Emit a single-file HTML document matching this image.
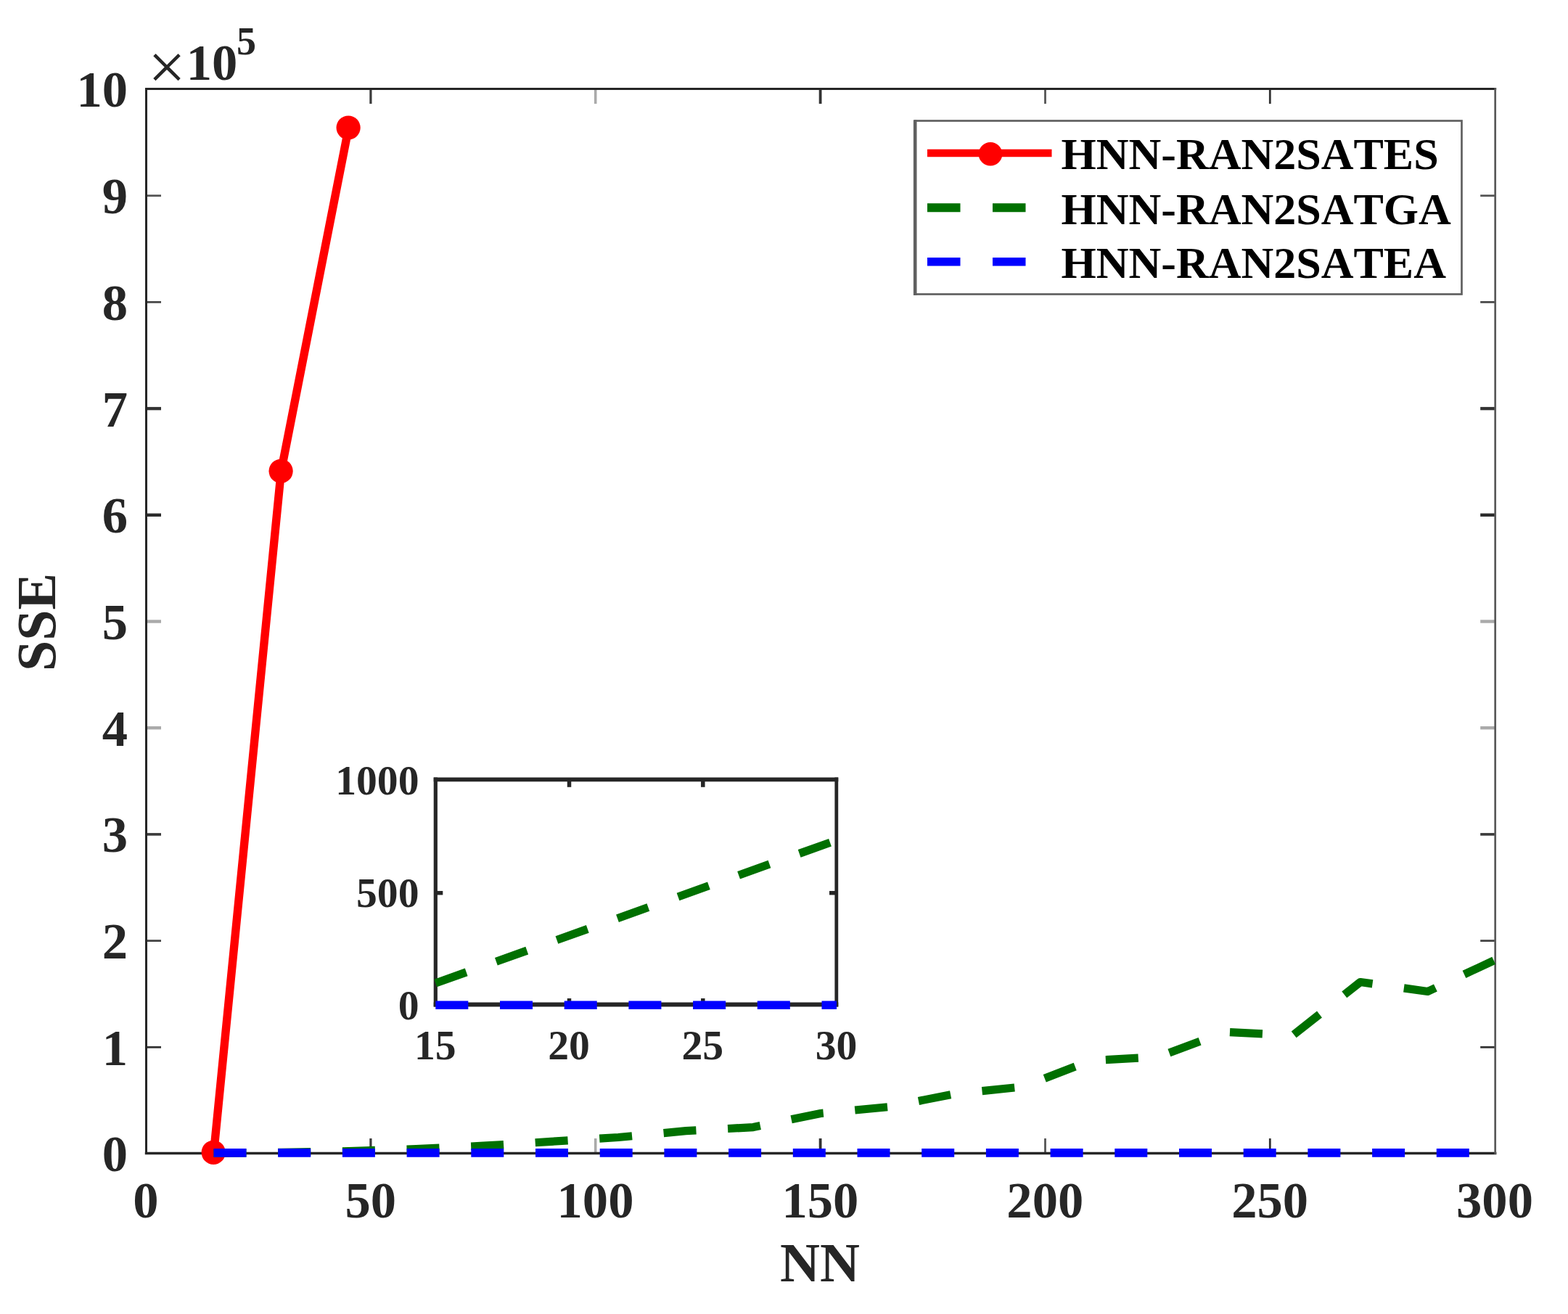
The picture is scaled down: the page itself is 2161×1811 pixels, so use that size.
<!DOCTYPE html>
<html lang="en"><head><meta charset="utf-8"><title>SSE vs NN</title>
<style>
html,body{margin:0;padding:0;background:#fff;}
body{width:2161px;height:1811px;overflow:hidden;}
svg{display:block;}
text{font-family:"Liberation Serif",serif;font-kerning:none;}
.t{font-weight:bold;font-size:70.6px;fill:#262626;}
.ti{font-weight:bold;font-size:57.7px;fill:#262626;}
.l{font-weight:bold;font-size:76px;fill:#262626;}
.g{font-weight:bold;font-size:62px;fill:#000;}
</style></head><body>
<svg width="2161" height="1811" viewBox="0 0 2161 1811">
<rect x="0" y="0" width="2161" height="1811" fill="#fff"/>
<g>
<g fill="none">
<line x1="510.9" y1="1589.5" x2="510.9" y2="1569.0" stroke="#3a3a3a" stroke-width="3.2"/>
<line x1="510.9" y1="122.5" x2="510.9" y2="143.0" stroke="#3a3a3a" stroke-width="3.2"/>
<line x1="820.7" y1="1589.5" x2="820.7" y2="1569.0" stroke="#aaa" stroke-width="3.6"/>
<line x1="820.7" y1="122.5" x2="820.7" y2="143.0" stroke="#aaa" stroke-width="3.6"/>
<line x1="1130.6" y1="1589.5" x2="1130.6" y2="1569.0" stroke="#333" stroke-width="3.8"/>
<line x1="1130.6" y1="122.5" x2="1130.6" y2="143.0" stroke="#333" stroke-width="3.8"/>
<line x1="1440.5" y1="1589.5" x2="1440.5" y2="1569.0" stroke="#555" stroke-width="2.8"/>
<line x1="1440.5" y1="122.5" x2="1440.5" y2="143.0" stroke="#555" stroke-width="2.8"/>
<line x1="1750.3" y1="1589.5" x2="1750.3" y2="1569.0" stroke="#333" stroke-width="2.8"/>
<line x1="1750.3" y1="122.5" x2="1750.3" y2="143.0" stroke="#333" stroke-width="2.8"/>
<line x1="201.5" y1="1443.3" x2="222.0" y2="1443.3" stroke="#333" stroke-width="2.8"/>
<line x1="2060.7" y1="1443.3" x2="2040.2" y2="1443.3" stroke="#333" stroke-width="2.8"/>
<line x1="201.5" y1="1296.6" x2="222.0" y2="1296.6" stroke="#444" stroke-width="2.8"/>
<line x1="2060.7" y1="1296.6" x2="2040.2" y2="1296.6" stroke="#444" stroke-width="2.8"/>
<line x1="201.5" y1="1149.9" x2="222.0" y2="1149.9" stroke="#3a3a3a" stroke-width="3.6"/>
<line x1="2060.7" y1="1149.9" x2="2040.2" y2="1149.9" stroke="#3a3a3a" stroke-width="3.6"/>
<line x1="201.5" y1="1003.2" x2="222.0" y2="1003.2" stroke="#aaa" stroke-width="4.4"/>
<line x1="2060.7" y1="1003.2" x2="2040.2" y2="1003.2" stroke="#aaa" stroke-width="4.4"/>
<line x1="201.5" y1="856.5" x2="222.0" y2="856.5" stroke="#aaa" stroke-width="4.4"/>
<line x1="2060.7" y1="856.5" x2="2040.2" y2="856.5" stroke="#aaa" stroke-width="4.4"/>
<line x1="201.5" y1="709.8" x2="222.0" y2="709.8" stroke="#2c2c2c" stroke-width="4.4"/>
<line x1="2060.7" y1="709.8" x2="2040.2" y2="709.8" stroke="#2c2c2c" stroke-width="4.4"/>
<line x1="201.5" y1="563.1" x2="222.0" y2="563.1" stroke="#333" stroke-width="4.4"/>
<line x1="2060.7" y1="563.1" x2="2040.2" y2="563.1" stroke="#333" stroke-width="4.4"/>
<line x1="201.5" y1="416.4" x2="222.0" y2="416.4" stroke="#4a4a4a" stroke-width="2.8"/>
<line x1="2060.7" y1="416.4" x2="2040.2" y2="416.4" stroke="#4a4a4a" stroke-width="2.8"/>
<line x1="201.5" y1="269.7" x2="222.0" y2="269.7" stroke="#555" stroke-width="2.8"/>
<line x1="2060.7" y1="269.7" x2="2040.2" y2="269.7" stroke="#555" stroke-width="2.8"/>
</g>
<g stroke="#262626" fill="none" stroke-linecap="square">
<line x1="201.5" y1="122.5" x2="2060.7" y2="122.5" stroke-width="3"/>
<line x1="201.5" y1="122.5" x2="201.5" y2="1589.5" stroke-width="3"/>
<line x1="201.5" y1="1589.5" x2="2060.7" y2="1589.5" stroke-width="3.4"/>
<line x1="2060.7" y1="122.5" x2="2060.7" y2="1589.5" stroke-width="2.7" stroke="#585858"/>
</g>
<text class="t" x="200.8" y="1678" text-anchor="middle">0</text>
<text class="t" x="510.7" y="1678" text-anchor="middle">50</text>
<text class="t" x="820.5" y="1678" text-anchor="middle">100</text>
<text class="t" x="1130.4" y="1678" text-anchor="middle">150</text>
<text class="t" x="1440.3" y="1678" text-anchor="middle">200</text>
<text class="t" x="1750.1" y="1678" text-anchor="middle">250</text>
<text class="t" x="2060.0" y="1678" text-anchor="middle">300</text>
<text class="t" x="176" y="1614.4" text-anchor="end">0</text>
<text class="t" x="176" y="1467.7" text-anchor="end">1</text>
<text class="t" x="176" y="1321.0" text-anchor="end">2</text>
<text class="t" x="176" y="1174.3" text-anchor="end">3</text>
<text class="t" x="176" y="1027.6" text-anchor="end">4</text>
<text class="t" x="176" y="880.9" text-anchor="end">5</text>
<text class="t" x="176" y="734.2" text-anchor="end">6</text>
<text class="t" x="176" y="587.5" text-anchor="end">7</text>
<text class="t" x="176" y="440.8" text-anchor="end">8</text>
<text class="t" x="176" y="294.1" text-anchor="end">9</text>
<text class="t" x="176" y="147.4" text-anchor="end">10</text>
<text x="230.0" y="122.8" text-anchor="middle" font-size="92" fill="#262626">×</text>
<text class="t" x="256.7" y="109.5">10</text>
<text class="t" x="326.0" y="74.7" style="font-size:54px">5</text>
<text class="l" x="1129.9" y="1765.7" text-anchor="middle">NN</text>
<text class="l" transform="translate(75.5 857.5) rotate(-90)" text-anchor="middle">SSE</text>
<polyline fill="none" stroke="#ff0000" stroke-width="11.4" stroke-linejoin="round" points="294.5,1589.5 387.4,649.6 480.4,176.3"/>
<circle cx="294.2" cy="1588.3" r="16.6" fill="#ff0000"/>
<circle cx="387.1" cy="649.3" r="16.6" fill="#ff0000"/>
<circle cx="480.1" cy="176.0" r="16.6" fill="#ff0000"/>
<polyline fill="none" stroke="#007000" stroke-width="11.2" stroke-dasharray="45 43.7" stroke-linejoin="round" points="294.5,1589.4 387.4,1588.4 480.4,1586.6 573.3,1583.6 666.3,1579.2 759.3,1573.4 852.2,1567.5 945.2,1558.7 1038.1,1553.6 1131.1,1534.5 1224.1,1525.6 1317.0,1507.5 1410.0,1497.8 1502.9,1461.9 1595.9,1456.7 1688.9,1422.3 1781.8,1427.0 1874.8,1353.5 1967.7,1366.5 2060.7,1322.9"/>
<line x1="294.5" y1="1588.9" x2="2060.7" y2="1588.9" stroke="#0000ff" stroke-width="11.6" stroke-dasharray="45 43.7"/>
<rect x="600.3" y="1074.3" width="552.7" height="310.2" fill="#fff" stroke="none"/>
<g stroke="#262626" stroke-width="5.5" fill="none">
<line x1="784.5" y1="1384.5" x2="784.5" y2="1376.0"/>
<line x1="784.5" y1="1074.3" x2="784.5" y2="1084.8"/>
<line x1="968.8" y1="1384.5" x2="968.8" y2="1376.0"/>
<line x1="968.8" y1="1074.3" x2="968.8" y2="1084.8"/>
<line x1="600.3" y1="1230.7" x2="610.3" y2="1230.7"/>
<line x1="1153.0" y1="1230.7" x2="1143.0" y2="1230.7"/>
</g>
<g stroke="#262626" fill="none" stroke-linecap="butt">
<line x1="597.7" y1="1074.3" x2="1155.3" y2="1074.3" stroke-width="5.7"/>
<line x1="597.7" y1="1384.5" x2="1155.3" y2="1384.5" stroke-width="6"/>
<line x1="600.3" y1="1071.5" x2="600.3" y2="1387.5" stroke-width="5.2"/>
<line x1="1152.8" y1="1071.5" x2="1152.8" y2="1387.5" stroke-width="4.8"/>
</g>
<text class="ti" x="599.8" y="1459.7" text-anchor="middle">15</text>
<text class="ti" x="784.0" y="1459.7" text-anchor="middle">20</text>
<text class="ti" x="968.3" y="1459.7" text-anchor="middle">25</text>
<text class="ti" x="1152.5" y="1459.7" text-anchor="middle">30</text>
<text class="ti" x="577.5" y="1404.8" text-anchor="end">0</text>
<text class="ti" x="577.5" y="1249.7" text-anchor="end">500</text>
<text class="ti" x="577.5" y="1094.6" text-anchor="end">1000</text>
<line x1="600.3" y1="1355.0" x2="1153.0" y2="1158.1" stroke="#007000" stroke-width="11.2" stroke-dasharray="45 43.7"/>
<line x1="600.3" y1="1385.3" x2="1153.0" y2="1385.3" stroke="#0000ff" stroke-width="11.6" stroke-dasharray="45 43.7"/>
<rect x="1261.5" y="166.5" width="753.0" height="239.0" fill="#fff" stroke="#606060" stroke-width="2.7"/>
<line x1="1278" y1="211" x2="1449.5" y2="211" stroke="#ff0000" stroke-width="10.6"/>
<circle cx="1365" cy="212.2" r="16.3" fill="#ff0000"/>
<line x1="1261.2" y1="165.2" x2="1261.2" y2="406.9" stroke="#606060" stroke-width="4.6"/>
<line x1="1278" y1="286.2" x2="1449.5" y2="286.2" stroke="#007000" stroke-width="12" stroke-dasharray="45.5 44.5"/>
<line x1="1278" y1="360.8" x2="1449.5" y2="360.8" stroke="#0000ff" stroke-width="11.5" stroke-dasharray="45.5 44.5"/>
<text class="g" x="1462.5" y="233.3">HNN-RAN2SATES</text>
<text class="g" x="1462.5" y="309.1">HNN-RAN2SATGA</text>
<text class="g" x="1462.5" y="382.9">HNN-RAN2SATEA</text>
</g>
</svg>
</body></html>
